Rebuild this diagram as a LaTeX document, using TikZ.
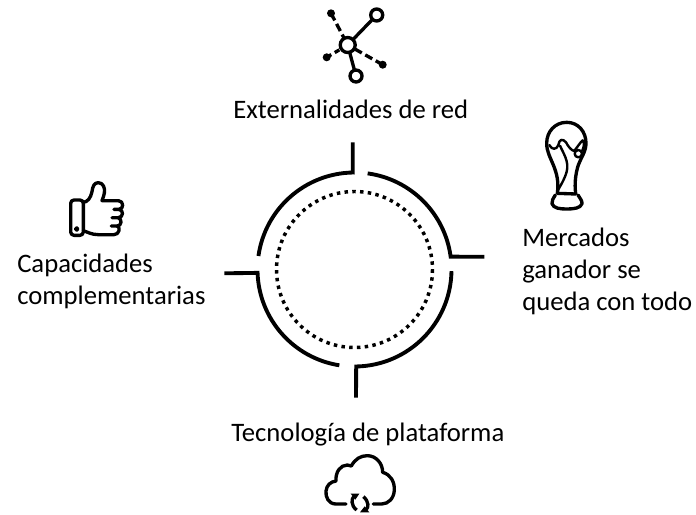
\documentclass[tikz,border=0pt]{standalone}
\usepackage{fontspec}
\setmainfont{Carlito}
\usetikzlibrary{calc,arrows.meta}
\tikzset{
  ring/.style={line width=2.9pt,line join=miter},
  dotring/.style={line width=2.6pt,dash pattern=on 2.6pt off 3.23pt},
  lbl/.style={font=\fontsize{20}{24}\selectfont,inner sep=0pt,align=left},
  icon/.style={line width=2.5pt,line cap=round,line join=round},
  iconthin/.style={line width=1.8pt,line cap=round,line join=round},
}
\begin{document}
\begin{tikzpicture}[x=.75pt,y=.75pt,yscale=-1]
\useasboundingbox (0,0) rectangle (696,514);
\fill[white] (0,0) rectangle (696,514);
\coordinate (c) at (354.5,269.5);
\coordinate (t1) at (352.7,142.3);
\coordinate (t2) at (484.3,256.7);
\coordinate (t3) at (356,397.7);
\coordinate (t4) at (224.3,273.3);
\draw[ring] (t1) -- ($(c)+(269:97)$) arc[start angle=269,end angle=188,radius=97];
\draw[ring] (t2) -- ($(c)+(-7.6:97)$) arc[start angle=-7.6,end angle=-82.2,radius=97];
\draw[ring] (t3) -- ($(c)+(89:97)$) arc[start angle=89,end angle=1,radius=97];
\draw[ring] (t4) -- ($(c)+(178:97)$) arc[start angle=178,end angle=99,radius=97];
\draw[dotring] (c) circle[radius=78];
\node[lbl,anchor=base west] (ext) at (233,118.5) {Externalidades de red};
\node[lbl,anchor=base west] (tec) at (231,441.5) {Tecnología de plataforma};
\node[lbl,anchor=base west] (mer) at (522,310.5) {Mercados\\ganador se\\queda con todo};
\node[lbl,anchor=base west] (cap) at (17,304.3) {Capacidades\\complementarias};
% network icon
\begin{scope}[line width=2.5pt]
\coordinate (hub) at (347.7,45);
\coordinate (n1) at (376.7,15);
\coordinate (n2) at (356,76);
\coordinate (d1) at (331,13.3);
\coordinate (d2) at (326.7,57.3);
\coordinate (d3) at (382.7,64.7);
\draw (hub) -- (n1);
\draw (hub) -- (n2);
\draw[dash pattern=on 6pt off 3pt] (d1) -- (hub);
\draw[dash pattern=on 6pt off 3pt] (d3) -- (hub);
\draw[dash pattern=on 4pt off 3pt] (d2) -- (hub);
\filldraw[fill=white] (hub) circle[radius=7.5];
\filldraw[fill=white] (n1) circle[radius=6];
\filldraw[fill=white] (n2) circle[radius=6];
\fill (d1) circle[radius=4];
\fill (d2) circle[radius=4];
\fill (d3) circle[radius=4];
\end{scope}
% trophy
\begin{scope}[shift={(510,115)},scale=1/3]
\draw[icon] (142,235) .. controls (147,200) and (140,175) .. (130,150) .. controls (122,130) and (110,110) .. (110,85) .. controls (110,50) and (135,22) .. (170,22) .. controls (205,22) and (228,50) .. (228,85) .. controls (228,110) and (212,130) .. (205,150) .. controls (197,175) and (193,205) .. (197,235);
\draw[icon] (142,235) -- (197,237);
\draw[icon] (136,240) .. controls (130,250) and (124,258) .. (126,266) .. controls (130,280) and (150,282) .. (170,282) .. controls (190,282) and (212,280) .. (216,266) .. controls (217,258) and (210,250) .. (204,240);
\draw[iconthin] (118,90) .. controls (125,105) and (140,105) .. (145,90) .. controls (148,72) and (158,70) .. (168,82) .. controls (175,95) and (183,105) .. (192,108);
\draw[iconthin] (192,108) .. controls (200,100) and (208,85) .. (218,76) .. controls (224,80) and (222,100) .. (216,108);
\draw[iconthin,fill=white] (205,116) circle[radius=11];
\draw[iconthin] (150,92) .. controls (160,115) and (178,140) .. (170,170) .. controls (165,190) and (150,215) .. (141,230);
\end{scope}
% thumb
\begin{scope}[shift={(50,170)},scale=1/3]
\draw[icon,rounded corners=2.5pt] (62,90) rectangle (100,196);
\draw[iconthin] (80,177) circle[radius=5];
\draw[icon] (100,97) .. controls (112,96) and (122,85) .. (126,65) .. controls (128,50) and (132,38) .. (145,38) .. controls (160,38) and (166,55) .. (163,70) .. controls (162,78) and (158,85) .. (156,92) -- (205,92) .. controls (222,92) and (222,118) .. (207,118) -- (192,118);
\draw[icon] (207,118) .. controls (222,120) and (220,143) .. (205,143) -- (186,143);
\draw[icon] (205,143) .. controls (217,147) and (215,168) .. (202,168) -- (184,168);
\draw[icon] (202,168) .. controls (212,172) and (208,194) .. (192,194) -- (145,194) .. controls (125,194) and (112,186) .. (100,182);
\end{scope}
% cloud
\begin{scope}[shift={(310,455)},scale=1/3]
\draw[icon] (108,147) -- (78,147) .. controls (55,147) and (46,125) .. (48,108) .. controls (50,90) and (62,80) .. (78,78) .. controls (76,50) and (92,30) .. (112,30) .. controls (118,30) and (120,31) .. (124,33) .. controls (135,12) and (152,2) .. (172,2) .. controls (198,2) and (218,25) .. (218,52) .. controls (240,58) and (254,78) .. (253,105) .. controls (252,130) and (235,147) .. (215,147) -- (190,147);
\draw[line width=2.5pt] (140,165) .. controls (122,152) and (124,130) .. (132,124);
\fill (122,116) -- (148,116) -- (136,134) -- cycle;
\draw[line width=2.5pt] (160,125) .. controls (178,140) and (176,158) .. (168,164);
\fill (150,172) -- (178,172) -- (164,154) -- cycle;
\end{scope}
\end{tikzpicture}
\end{document}
